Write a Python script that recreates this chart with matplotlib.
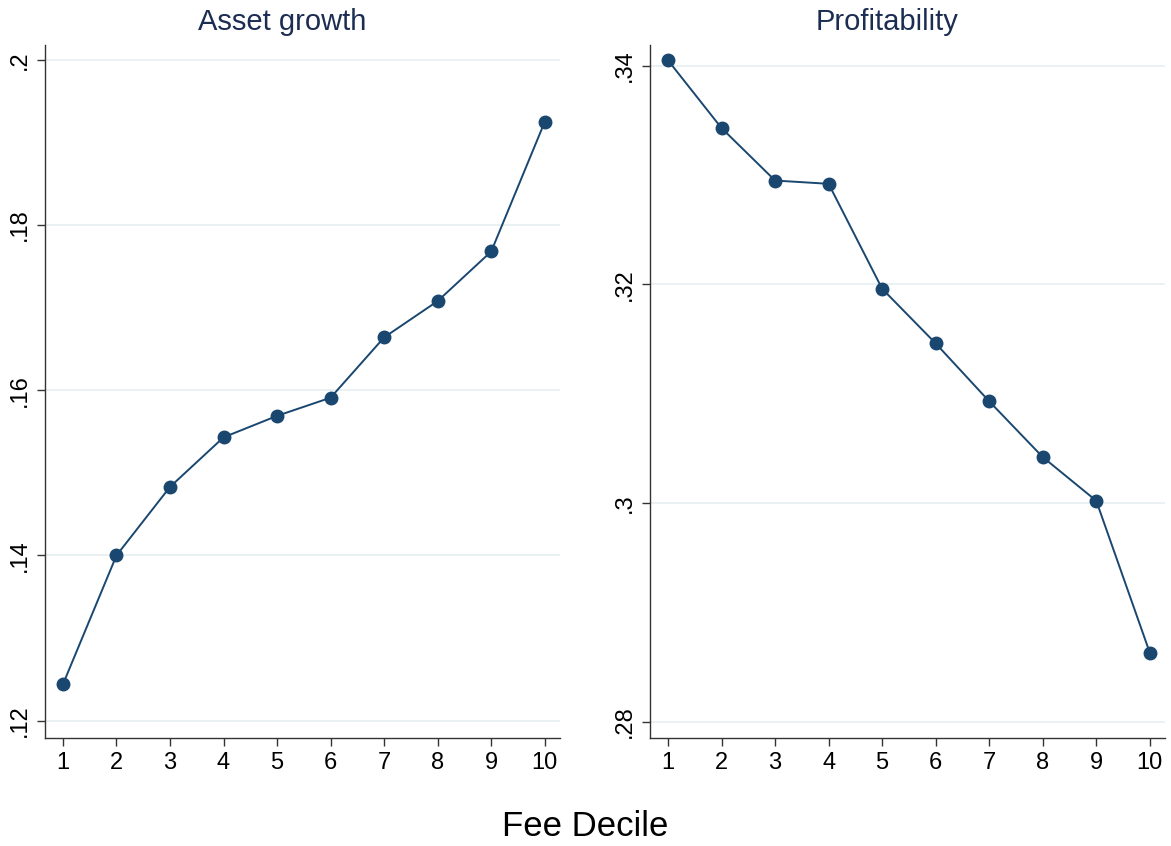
import matplotlib
matplotlib.use("Agg")
import matplotlib.pyplot as plt

plt.rcParams['font.family'] = ['Liberation Sans', 'DejaVu Sans']

deciles = [1, 2, 3, 4, 5, 6, 7, 8, 9, 10]
asset_growth = [0.1244, 0.1400, 0.1483, 0.1543, 0.1569, 0.1591, 0.1664, 0.1708, 0.1768, 0.1925]
profitability = [0.3405, 0.3343, 0.3295, 0.3292, 0.3196, 0.3146, 0.3093, 0.3042, 0.3002, 0.2863]
ag_ticks = [0.12, 0.14, 0.16, 0.18, 0.2]
ag_labels = ['.12', '.14', '.16', '.18', '.2']
pr_ticks = [0.28, 0.30, 0.32, 0.34]
pr_labels = ['.28', '.3', '.32', '.34']

line_color = '#1a476f'
title_color = '#1c2d52'
grid_color = '#e6eff1'

fig = plt.figure(figsize=(11.71, 8.46), dpi=100)
ax1 = fig.add_axes([0.0384, 0.1277, 0.4396, 0.8191])
ax2 = fig.add_axes([0.5551, 0.1277, 0.4396, 0.8191])

panels = [
    (ax1, asset_growth, 'Asset growth', ag_ticks, ag_labels, (0.1179, 0.2018)),
    (ax2, profitability, 'Profitability', pr_ticks, pr_labels, (0.2785, 0.3419)),
]
for ax, vals, title, ticks, labels, ylim in panels:
    ax.plot(deciles, vals, color=line_color, lw=1.4, marker='o', ms=9, zorder=3)
    ax.set_xlim(0.664, 10.28)
    ax.set_ylim(*ylim)
    ax.set_xticks(deciles)
    ax.set_xticklabels([str(d) for d in deciles], fontsize=17)
    ax.set_yticks(ticks)
    ax.set_yticklabels(labels, fontsize=17, rotation=90, va='center')
    ax.grid(axis='y', color=grid_color, lw=1.2, zorder=0)
    ax.set_axisbelow(True)
    for s in ['top', 'right']:
        ax.spines[s].set_visible(False)
    for s in ['left', 'bottom']:
        ax.spines[s].set_color('#333333')
        ax.spines[s].set_linewidth(1.0)
    ax.tick_params(axis='both', length=6, width=1, color='#333333', pad=4)
    ax.set_title(title, fontsize=21, color=title_color, x=0.46, pad=11)

fig.text(0.5, 0.003, 'Fee Decile', ha='center', va='bottom', fontsize=25)

fig.savefig('out.png', dpi=100)
